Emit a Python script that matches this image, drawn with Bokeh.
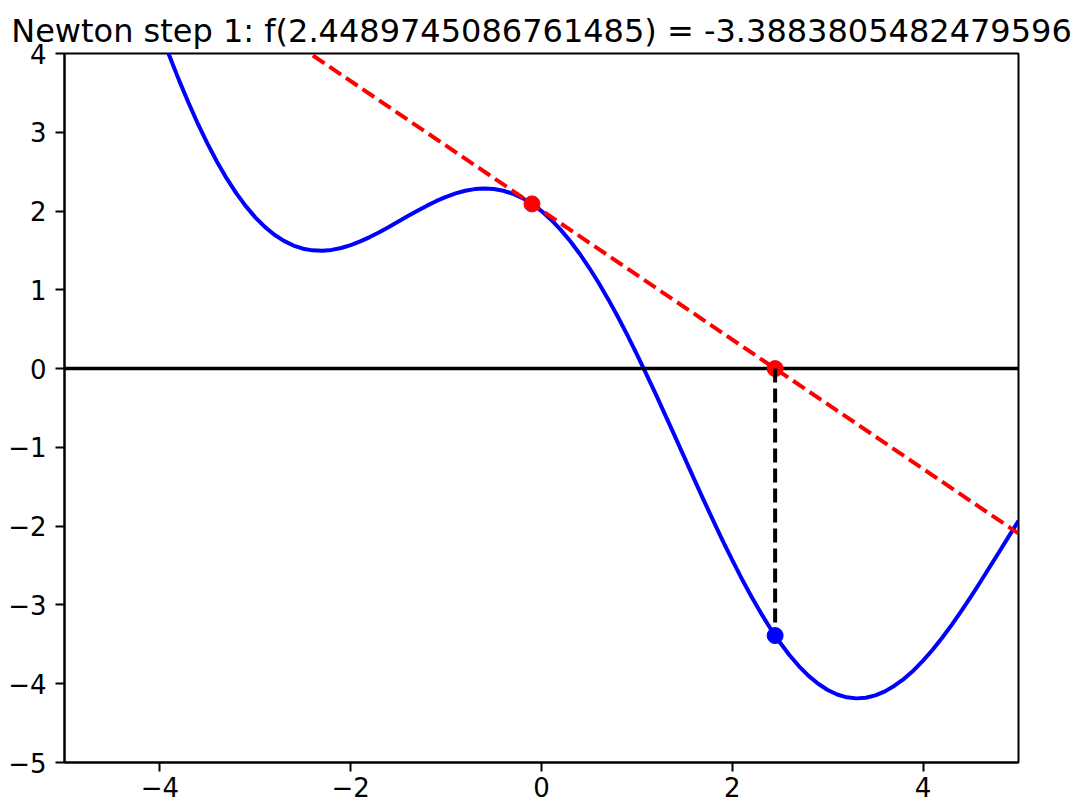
from bokeh.plotting import figure
from bokeh.models import FixedTicker, Range1d
from bokeh.embed import file_html
from bokeh.resources import INLINE

# ---- data ----
curve_x = [-4.0, -3.9, -3.8, -3.7, -3.6, -3.5, -3.4, -3.3, -3.2, -3.1,
           -3.0, -2.9, -2.8, -2.7, -2.6, -2.5, -2.4, -2.3, -2.2, -2.1,
           -2.0, -1.9, -1.8, -1.7, -1.6, -1.5, -1.4, -1.3, -1.2, -1.1,
           -1.0, -0.9, -0.8, -0.7, -0.6, -0.5, -0.4, -0.3, -0.2, -0.1,
           0.0, 0.1, 0.2, 0.3, 0.4, 0.5, 0.6, 0.7, 0.8, 0.9,
           1.0, 1.1, 1.2, 1.3, 1.4, 1.5, 1.6, 1.7, 1.8, 1.9,
           2.0, 2.1, 2.2, 2.3, 2.4, 2.5, 2.6, 2.7, 2.8, 2.9,
           3.0, 3.1, 3.2, 3.3, 3.4, 3.5, 3.6, 3.7, 3.8, 3.9,
           4.0, 4.1, 4.2, 4.3, 4.4, 4.5, 4.6, 4.7, 4.8, 4.9, 5.0]
curve_y = [4.2927, 3.9691, 3.6621, 3.3745, 3.1025, 2.8521, 2.6224, 2.4140, 2.2274, 2.0627,
           1.9200, 1.7991, 1.6996, 1.6209, 1.5622, 1.5227, 1.5012, 1.4965, 1.5070, 1.5313,
           1.5677, 1.6144, 1.6696, 1.7313, 1.7976, 1.8665, 1.9359, 2.0040, 2.0687, 2.1282,
           2.1806, 2.2242, 2.2574, 2.2787, 2.2867, 2.2802, 2.2581, 2.2197, 2.1641, 2.0910,
           2.0000, 1.8910, 1.7641, 1.6197, 1.4581, 1.2802, 1.0867, 0.8787, 0.6574, 0.4242,
           0.1806, -0.0718, -0.3313, -0.5960, -0.8641, -1.1335, -1.4024, -1.6687, -1.9304, -2.1856,
           -2.4323, -2.6687, -2.8930, -3.1036, -3.2988, -3.4773, -3.6378, -3.7791, -3.9004, -4.0009,
           -4.0800, -4.1373, -4.1726, -4.1860, -4.1776, -4.1479, -4.0975, -4.0255, -3.9379, -3.8309,
           -3.7073, -3.5687, -3.4165, -3.2526, -3.0787, -2.8966, -2.7083, -2.5158, -2.3210, -2.1260,
           -1.9327]

x0 = -0.1
fx0 = 2.0910
x1 = 2.4489745086761485
fx1 = -3.3883805482479596

x_lim = [-5, 5]
y_lim = [-5, 4]
x_ticks = [-4, -2, 0, 2, 4]
y_ticks = [-5, -4, -3, -2, -1, 0, 1, 2, 3, 4]

title_text = f"Newton step 1: f({x1}) = {fx1}"

# tangent line through (x0, fx0) and (x1, 0)
slope = fx0 / (x0 - x1)
tan_x = x_lim
tan_y = [fx0 + slope * (xx - x0) for xx in tan_x]


def fmt(v):
    return str(v).replace("-", "\u2212")


p = figure(width=1073, height=808,
           x_range=Range1d(*x_lim), y_range=Range1d(*y_lim),
           output_backend="svg", toolbar_location=None,
           min_border_left=64, min_border_right=55,
           min_border_top=53, min_border_bottom=46,
           background_fill_color="white", border_fill_color="white")

p.title.text = title_text
p.title.text_font = "DejaVu Sans"
p.title.text_font_size = "32px"
p.title.text_font_style = "normal"
p.title.text_color = "black"
p.title.align = "center"
p.title.standoff = 8

p.grid.visible = False
p.outline_line_color = "black"
p.outline_line_width = 2
p.outline_line_alpha = 1.0

p.xaxis.ticker = FixedTicker(ticks=x_ticks)
p.yaxis.ticker = FixedTicker(ticks=y_ticks)
p.xaxis.major_label_overrides = {t: fmt(t) for t in x_ticks}
p.yaxis.major_label_overrides = {t: fmt(t) for t in y_ticks}
for ax in (p.xaxis, p.yaxis):
    ax.major_label_text_font = "DejaVu Sans"
    ax.major_label_text_font_size = "26px"
    ax.major_label_text_color = "black"
    ax.major_tick_out = 9
    ax.major_tick_in = 0
    ax.major_tick_line_width = 2
    ax.major_tick_line_color = "black"
    ax.minor_tick_out = 0
    ax.minor_tick_in = 0
    ax.axis_line_width = 2
    ax.axis_line_color = "black"
p.xaxis.major_label_standoff = 5
p.yaxis.major_label_standoff = 9

# function curve
p.line(curve_x, curve_y, line_color="#0000ff", line_width=4, line_join="round")
# x axis line
p.line(x_lim, [0, 0], line_color="black", line_width=3.5)
# tangent
p.line(tan_x, tan_y, line_color="#ff0000", line_width=4, line_dash="14 6")
# red points
p.scatter([x0, x1], [fx0, 0], size=16, fill_color="#ff0000", line_color="#ff0000")
# vertical dashed
p.line([x1, x1], [0, fx1], line_color="black", line_width=4, line_dash="14 6")
# blue point
p.scatter([x1], [fx1], size=16, fill_color="#0000ff", line_color="#0000ff")

open("out.html", "w").write(file_html(p, INLINE))
